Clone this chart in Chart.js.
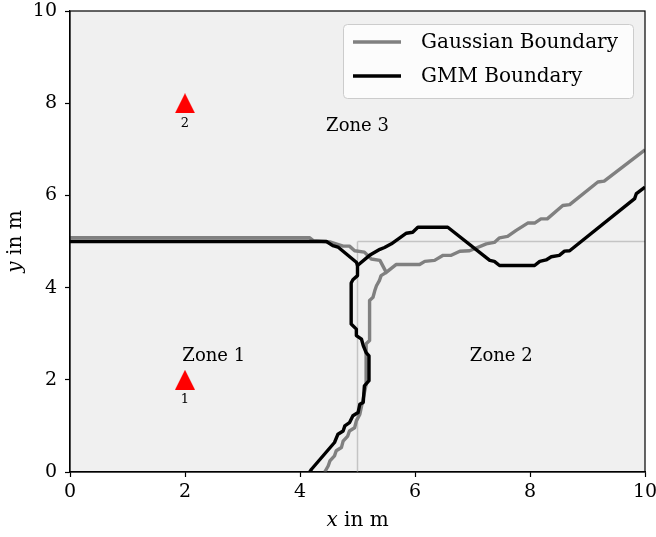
<!DOCTYPE html>
<html>
<head>
<meta charset="utf-8">
<script src="https://cdn.jsdelivr.net/npm/chart.js@4.4.0/dist/chart.umd.min.js"></script>
<style>
  html, body { margin: 0; padding: 0; background: #fff; }
</style>
</head>
<body>
<canvas id="myChart" width="656" height="537"></canvas>
<script>
// Gaussian boundary: west edge -> junction -> east edge, then the southern branch
const gaussX = [0, 4.17, 4.23, 4.52, 4.75, 4.86, 4.95, 5.12, 5.24, 5.39, 5.5, 5.67, 6.08, 6.17, 6.34, 6.49, 6.63, 6.78, 6.95, 7.24, 7.38, 7.47, 7.61, 7.76, 7.96, 8.08, 8.19, 8.3, 8.57, 8.69, 9.18, 9.29, 10];
const gaussY = [5.08, 5.08, 5.02, 4.99, 4.9, 4.9, 4.8, 4.77, 4.62, 4.59, 4.33, 4.5, 4.5, 4.57, 4.59, 4.7, 4.7, 4.79, 4.8, 4.95, 4.98, 5.08, 5.11, 5.24, 5.4, 5.4, 5.49, 5.49, 5.78, 5.8, 6.29, 6.31, 6.99];
const gaussSouthX = [5.5, 5.41, 5.38, 5.33, 5.3, 5.27, 5.21, 5.21, 5.15, 5.15, 5.1, 5.04, 4.98, 4.95, 4.86, 4.83, 4.75, 4.72, 4.63, 4.6, 4.52, 4.49, 4.43];
const gaussSouthY = [4.33, 4.26, 4.15, 4.04, 3.93, 3.79, 3.72, 2.85, 2.78, 1.9, 1.6, 1.25, 1.11, 0.96, 0.89, 0.78, 0.67, 0.53, 0.46, 0.35, 0.24, 0.13, 0];

// GMM boundary
const gmmX = [0, 4.46, 4.57, 4.66, 4.98, 5.0, 5.21, 5.39, 5.47, 5.59, 5.85, 5.96, 6.05, 6.57, 7.3, 7.38, 7.47, 8.08, 8.17, 8.28, 8.37, 8.51, 8.6, 8.69, 9.82, 9.85, 10];
const gmmY = [5.0, 5.0, 4.91, 4.88, 4.55, 4.48, 4.7, 4.83, 4.87, 4.95, 5.18, 5.2, 5.31, 5.31, 4.59, 4.57, 4.48, 4.48, 4.57, 4.6, 4.67, 4.7, 4.79, 4.8, 5.93, 6.04, 6.18];
const gmmSouthX = [5.0, 5.0, 4.92, 4.89, 4.89, 4.98, 4.98, 5.07, 5.1, 5.15, 5.2, 5.2, 5.12, 5.1, 5.04, 5.01, 4.92, 4.86, 4.78, 4.75, 4.66, 4.6, 4.2, 4.17];
const gmmSouthY = [4.48, 4.26, 4.17, 4.1, 3.21, 3.1, 2.96, 2.88, 2.74, 2.59, 2.52, 1.98, 1.87, 1.51, 1.47, 1.29, 1.22, 1.07, 1.0, 0.89, 0.82, 0.64, 0.06, 0];

// thin reference lines x = 5 and y = 5
const refVertX = [5, 5];
const refVertY = [0, 5];
const refHorzX = [5, 10];
const refHorzY = [5, 5];

// anchors (red triangles)
const stationX = [2, 2];
const stationY = [2, 8];
const stationNames = ['1', '2'];

// zone labels
const zoneX = [2.5, 7.5, 5];
const zoneY = [2.5, 2.5, 7.5];
const zoneNames = ['Zone 1', 'Zone 2', 'Zone 3'];

const xTicks = [0, 2, 4, 6, 8, 10];
const yTicks = [0, 2, 4, 6, 8, 10];

const SERIF = '"DejaVu Serif", serif';
const GRAY = '#808080';
const LW = 3.4;

function pts(xs, ys) {
  return xs.map((x, i) => ({x: x, y: ys[i]}));
}

// matplotlib style '^' marker
const tri = document.createElement('canvas');
tri.width = 20; tri.height = 20;
(function() {
  const c = tri.getContext('2d');
  c.fillStyle = '#ff0000';
  c.beginPath();
  c.moveTo(10, 0); c.lineTo(20, 20); c.lineTo(0, 20);
  c.closePath();
  c.fill();
})();

function lineSet(data, color, width, legend, legendOrder) {
  return {
    data: data,
    showLine: true,
    borderColor: color,
    borderWidth: width,
    borderJoinStyle: 'round',
    pointRadius: 0,
    pointHoverRadius: 0,
    legendLabel: legend,
    legendOrder: legendOrder
  };
}

const decor = {
  id: 'decor',
  beforeDraw(chart) {
    const a = chart.chartArea, ctx = chart.ctx;
    ctx.save();
    ctx.fillStyle = '#f0f0f0';
    ctx.fillRect(a.left, a.top, a.right - a.left, a.bottom - a.top);
    ctx.restore();
  },
  afterDatasetsDraw(chart) {
    const a = chart.chartArea, ctx = chart.ctx;
    const xs = chart.scales.x, ys = chart.scales.y;
    ctx.save();
    // frame
    ctx.strokeStyle = '#000';
    ctx.lineWidth = 1.2;
    ctx.strokeRect(a.left, a.top, a.right - a.left, a.bottom - a.top);

    // zone labels
    ctx.fillStyle = '#000';
    ctx.font = '18px ' + SERIF;
    ctx.textAlign = 'center';
    ctx.textBaseline = 'middle';
    zoneNames.forEach((t, i) => {
      ctx.fillText(t, xs.getPixelForValue(zoneX[i]), ys.getPixelForValue(zoneY[i]));
    });

    // station numbers
    ctx.font = '13px ' + SERIF;
    stationNames.forEach((t, i) => {
      ctx.fillText(t, xs.getPixelForValue(stationX[i]), ys.getPixelForValue(stationY[i]) + 20);
    });

    // legend
    const bw = 290, bh = 74;
    const bx = a.right - 12 - bw, by = a.top + 13;
    ctx.beginPath();
    ctx.roundRect(bx + 0.5, by + 0.5, bw, bh, 4);
    ctx.fillStyle = 'rgba(255,255,255,0.8)';
    ctx.fill();
    ctx.strokeStyle = '#cccccc';
    ctx.lineWidth = 1;
    ctx.stroke();
    const items = chart.data.datasets.filter(d => d.legendLabel)
      .sort((p, q) => p.legendOrder - q.legendOrder);
    ctx.font = '20px ' + SERIF;
    ctx.textAlign = 'left';
    items.forEach((d, i) => {
      const yy = by + 18 + i * 34;
      ctx.strokeStyle = d.borderColor;
      ctx.lineWidth = d.borderWidth;
      ctx.beginPath();
      ctx.moveTo(bx + 10, yy);
      ctx.lineTo(bx + 58, yy);
      ctx.stroke();
      ctx.fillStyle = '#000';
      ctx.fillText(d.legendLabel, bx + 78, yy + 1);
    });
    ctx.restore();
  },
  afterDraw(chart) {
    const a = chart.chartArea, ctx = chart.ctx;
    ctx.save();
    ctx.fillStyle = '#000';
    ctx.textBaseline = 'middle';
    ctx.textAlign = 'left';
    // x axis title with italic variable
    const italic = 'italic 20px ' + SERIF, roman = '20px ' + SERIF;
    ctx.font = italic; const w1 = ctx.measureText('x').width;
    ctx.font = roman; const w2 = ctx.measureText(' in m').width;
    let x0 = (a.left + a.right) / 2 - (w1 + w2) / 2;
    ctx.font = italic; ctx.fillText('x', x0, 521);
    ctx.font = roman; ctx.fillText(' in m', x0 + w1, 521);
    // y axis title
    ctx.translate(16, (a.top + a.bottom) / 2);
    ctx.rotate(-Math.PI / 2);
    ctx.font = italic; const v1 = ctx.measureText('y').width;
    ctx.font = roman; const v2 = ctx.measureText(' in m').width;
    x0 = -(v1 + v2) / 2;
    ctx.font = italic; ctx.fillText('y', x0, 0);
    ctx.font = roman; ctx.fillText(' in m', x0 + v1, 0);
    ctx.restore();
  }
};

// first dataset is drawn on top
const datasets = [
  {
    data: pts(stationX, stationY),
    pointStyle: tri,
    pointRadius: 10,
    showLine: false
  },
  lineSet(pts(gmmX, gmmY), '#000000', LW, 'GMM Boundary', 2),
  lineSet(pts(gmmSouthX, gmmSouthY), '#000000', LW, null),
  lineSet(pts(gaussX, gaussY), GRAY, LW, 'Gaussian Boundary', 1),
  lineSet(pts(gaussSouthX, gaussSouthY), GRAY, LW, null),
  lineSet(pts(refVertX, refVertY), '#c4c4c4', 1.5, null),
  lineSet(pts(refHorzX, refHorzY), '#c4c4c4', 1.5, null)
];

const ctx = document.getElementById('myChart').getContext('2d');
const myChart = new Chart(ctx, {
  type: 'scatter',
  data: { datasets: datasets },
  options: {
    responsive: false,
    animation: false,
    events: [],
    layout: { padding: { top: 11, right: 11, left: 0, bottom: 0 } },
    plugins: {
      legend: { display: false },
      tooltip: { enabled: false }
    },
    scales: {
      x: {
        type: 'linear', min: 0, max: 10,
        afterBuildTicks: s => { s.ticks = xTicks.map(v => ({value: v})); },
        afterFit: s => { s.height = 65; s.paddingLeft = 0; s.paddingRight = 0; },
        ticks: { color: '#000', font: { family: SERIF, size: 19 }, padding: 4, maxRotation: 0 },
        grid: { drawOnChartArea: false, drawTicks: true, tickLength: 5, color: '#000', tickWidth: 1.2 },
        border: { display: true, color: '#000', width: 1.2 }
      },
      y: {
        type: 'linear', min: 0, max: 10,
        afterBuildTicks: s => { s.ticks = yTicks.map(v => ({value: v})); },
        afterFit: s => { s.width = 70; s.paddingTop = 0; s.paddingBottom = 0; },
        ticks: { color: '#000', font: { family: SERIF, size: 19 }, padding: 8 },
        grid: { drawOnChartArea: false, drawTicks: true, tickLength: 5, color: '#000', tickWidth: 1.2 },
        border: { display: true, color: '#000', width: 1.2 }
      }
    }
  },
  plugins: [decor]
});
</script>
</body>
</html>
